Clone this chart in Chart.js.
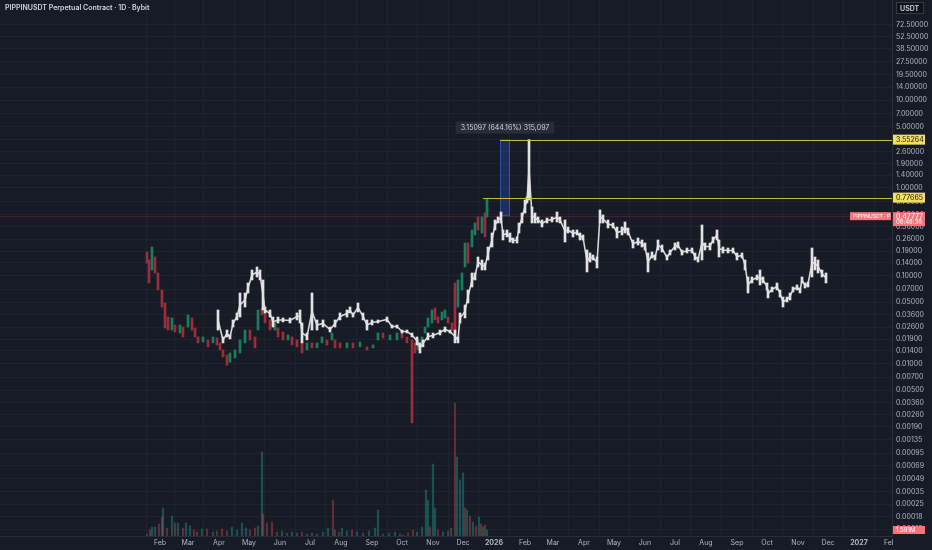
<!DOCTYPE html>
<html>
<head>
<meta charset="utf-8">
<script src="https://cdn.jsdelivr.net/npm/chart.js@4.4.1/dist/chart.umd.min.js"></script>
<style>
  html, body { margin: 0; padding: 0; background: #171b26; }
  #wrap { width: 932px; height: 550px; }
</style>
</head>
<body>
<div id="wrap"><canvas id="chart" width="932" height="550"></canvas></div>
<script>
// days counted from 1 Jan 2025
const monthDays = [31,59,90,120,151,181,212,243,273,304,334,365,396,424,455,485,516,546,577,608,638,669,699,730,761]
const monthLabels = ['Feb','Mar','Apr','May','Jun','Jul','Aug','Sep','Oct','Nov','Dec','2026','Feb','Mar','Apr','May','Jun','Jul','Aug','Sep','Oct','Nov','Dec','2027','Feb']

const priceTicks = [72.5,52.5,38.5,27.5,19.5,14,10,7,5,3.6,2.6,1.9,1.4,1,0.7,0.5,0.36,0.26,0.19,0.14,0.1,0.07,0.05,0.036,0.026,0.019,0.014,0.01,0.007,0.005,0.0036,0.0026,0.0019,0.00135,0.00095,0.00069,0.00049,0.00035,0.00025,0.00018,0.00013]

// PIPPINUSDT daily candles (sampled)
const candleDay = [18,20,23,26,29,33,36,39,43,46, 51,54,59,63,66,69,74,79,84,88, 91,94,98,101,106,111,116,121,126,129,
  133,136,141,146,149,154,159,163,168,173, 178,183,188,193,198,203,206,211,218,224, 231,238,244,249,254,261,268,273,278,283,
  286,289,293,296,299,303,306,309,313,316, 319,323,326,329,333,336,339,343,346,349, 353,356,358]
const candleHigh = [0.1866,0.1513,0.2128,0.1637,0.1076,0.0689,0.0490,0.0339,0.0331,0.0275,
  0.0275,0.0261,0.0358,0.0331,0.0254,0.0201,0.0201,0.0186,0.0201,0.0196,
  0.0172,0.0143,0.0125,0.0132,0.0143,0.0186,0.0241,0.0241,0.0201,0.0408,
  0.0430,0.0377,0.0314,0.0290,0.0254,0.0229,0.0212,0.0201,0.0186,0.0172,
  0.0172,0.0172,0.0172,0.0201,0.0186,0.0223,0.0186,0.0172,0.0172,0.0172,
  0.0176,0.0155,0.0163,0.0223,0.0223,0.0212,0.0223,0.0223,0.0201,0.0186,
  0.0172,0.0186,0.0201,0.0261,0.0331,0.0408,0.0430,0.0339,0.0387,0.0408,
  0.0339,0.0290,0.0828,0.0896,0.1076,0.2363,0.2363,0.3324,0.3994,0.4675,
  0.4675,0.519,0.750]
const candleLow = [0.1398,0.0828,0.1164,0.1076,0.0689,0.0441,0.0254,0.0241,0.0241,0.0229,
  0.0223,0.0201,0.0261,0.0241,0.0201,0.0172,0.0176,0.0155,0.0172,0.0163,
  0.0143,0.0119,0.0096,0.0104,0.0116,0.0132,0.0172,0.0186,0.0151,0.0241,
  0.0358,0.0290,0.0241,0.0241,0.0201,0.0186,0.0186,0.0163,0.0155,0.0132,
  0.0143,0.0151,0.0151,0.0172,0.0163,0.0186,0.0151,0.0151,0.0151,0.0151,
  0.0155,0.0143,0.0151,0.0186,0.0196,0.0186,0.0186,0.0196,0.0172,0.00211,
  0.0132,0.0143,0.0172,0.0223,0.0261,0.0290,0.0314,0.0290,0.0314,0.0331,
  0.0290,0.0241,0.0223,0.0441,0.0689,0.1259,0.1398,0.2128,0.2916,0.3324,
  0.3072,0.2767,0.4675]
const candleUp = [0,0,1,0,0,0,0,0,1,0, 1,0,1,0,0,0,1,0,1,0, 0,0,0,1,1,1,1,0,0,1,
  0,0,0,1,0,0,1,0,0,0, 1,0,1,1,0,1,0,0,1,0, 1,0,1,1,0,1,1,0,0,0,
  0,1,1,1,1,1,0,0,1,1, 0,0,0,1,1,1,0,1,1,0, 1,0,1]

// bars pattern projection (white)
const ghostDay = [89,94,98,101,104,108,111,116,119,123, 128,131,134,136,141,144,149,154,161,168,
  171,173,178,183,188,194,201,206,211,218, 221,224,229,234,238,243,249,258,263,268,
  273,278,283,288,291,294,299,304,311,316, 321,326,329,331,336,339,343,346,349,353,
  356,359,363,366,369,372,374,378,381,384, 388,390,393,396,398,400,403,406,409,413,
  418,423,428,431,436,439,444,448,451,454, 458,461,464,468,471,474,479,484,488,493,
  496,499,504,509,513,516,519,523,526,529, 533,538,541,546,549,553,558,563,566,569,
  573,576,581,584,588,590,594,599,604,608, 613,616,619,623,628,631,634,638,639,643,
  648,651,654,658,661,664,668,671,673,676, 679,683,686,689,693,697]
const ghostHigh = [0.0408,0.0201,0.0241,0.0212,0.0314,0.0377,0.0637,0.0637,0.0828,0.1164,
  0.1259,0.1164,0.0896,0.0441,0.0408,0.0339,0.0339,0.0331,0.0331,0.0377,
  0.0408,0.0290,0.0223,0.0637,0.0314,0.0314,0.0261,0.0314,0.0377,0.0408,
  0.0441,0.0377,0.0490,0.0377,0.0314,0.0314,0.0314,0.0339,0.0275,0.0275,
  0.0241,0.0241,0.0223,0.0201,0.0172,0.0186,0.0223,0.0223,0.0241,0.0261,
  0.0241,0.0241,0.0201,0.0377,0.0465,0.0689,0.1076,0.1076,0.1637,0.1513,
  0.1398,0.2128,0.3072,0.432,0.4675,0.533,0.3324,0.3324,0.3072,0.2695,
  0.2767,0.3994,0.519,0.730,0.790,3.5526,0.608,0.519,0.4675,0.432,
  0.4554,0.4675,0.533,0.4675,0.432,0.3596,0.3324,0.3324,0.3072,0.2916,
  0.1967,0.1818,0.1725,0.1637,0.562,0.493,0.432,0.3994,0.3596,0.3596,
  0.410,0.3503,0.2557,0.2695,0.2557,0.2363,0.1818,0.1866,0.1725,0.2557,
  0.2243,0.1725,0.1967,0.2363,0.2426,0.1967,0.2073,0.2073,0.1818,0.1637,
  0.379,0.2363,0.2363,0.2767,0.3324,0.2557,0.2128,0.2073,0.2073,0.1818,
  0.1818,0.1513,0.0969,0.0969,0.1021,0.1164,0.0969,0.0828,0.0689,0.0745,
  0.0828,0.0689,0.0573,0.0573,0.0637,0.0745,0.0786,0.0726,0.0969,0.0828,
  0.0850,0.2073,0.1637,0.1513,0.1164,0.1076]
const ghostLow = [0.0241,0.0172,0.0201,0.0191,0.0261,0.0314,0.0339,0.0441,0.0637,0.0896,
  0.0969,0.0896,0.0408,0.0377,0.0339,0.0261,0.0290,0.0298,0.0290,0.0314,
  0.0290,0.0172,0.0186,0.0241,0.0241,0.0261,0.0229,0.0261,0.0314,0.0339,
  0.0377,0.0339,0.0387,0.0314,0.0241,0.0275,0.0290,0.0298,0.0254,0.0254,
  0.0223,0.0223,0.0201,0.0163,0.0132,0.0155,0.0186,0.0196,0.0212,0.0229,
  0.0223,0.0172,0.0172,0.0290,0.0331,0.0490,0.0745,0.0896,0.1259,0.1164,
  0.1164,0.1513,0.2128,0.3324,0.3994,0.3994,0.2557,0.2767,0.2426,0.2363,
  0.2363,0.3072,0.3994,0.519,0.675,0.730,0.3994,0.3994,0.3994,0.3596,
  0.3994,0.410,0.410,0.3994,0.2426,0.3072,0.2767,0.2916,0.2557,0.2557,
  0.1105,0.1436,0.1513,0.1227,0.3994,0.3994,0.3503,0.3503,0.2695,0.2916,
  0.3072,0.2916,0.2073,0.2243,0.2128,0.1967,0.1105,0.1594,0.1513,0.1967,
  0.1866,0.1513,0.1725,0.1967,0.2073,0.1725,0.1818,0.1818,0.1513,0.1436,
  0.1513,0.1967,0.1967,0.2363,0.2557,0.1637,0.1818,0.1818,0.1818,0.1513,
  0.1594,0.1164,0.0637,0.0828,0.0896,0.0786,0.0828,0.0689,0.0559,0.0654,
  0.0689,0.0573,0.0441,0.0503,0.0530,0.0654,0.0689,0.0637,0.0828,0.0726,
  0.0745,0.0969,0.1164,0.1076,0.0969,0.0828]

// volume, millions
const volDay = [18,21,23,26,30,33,34,38,43,46,49,54,57,61,65,68,73,78,84,88,93,98,103,108,113,117,121,126,129,133,
  134,138,143,148,153,158,163,168,173,178,183,188,194,199,204,206,210,213,218,223,228,234,240,246,249,254,260,266,271,274,
  279,284,288,293,297,299,301,304,306,309,314,319,322,326,328,331,334,336,338,341,344,347,350,352,354,356,358]
const volValue = [1,3,4.5,4.5,6,9.5,14,4,10,6.5,6.5,4,6.5,5,3,2,3.5,3.5,2,2.5,3.5,2.5,4.5,3,6.5,4,3,4,5,42,
  11,6.5,7,2,2.5,1.5,2,1.5,2,1,1.5,1,2,4,18,3,2,4,2.5,3,2,1.5,2.5,4,13,1,1.5,2,1,0.5,
  1.5,3,2,4.5,23,18,4.5,36,14,3,2,2.5,4,66.5,39.5,28,31.5,14,13,10,7,5,9.5,6,4.5,5.5,3]
const volUp = [0,0,1,1,0,0,1,0,1,0,1,0,1,1,0,0,1,0,1,0,0,0,1,1,1,1,0,0,1,1,
  0,0,0,0,1,0,1,0,0,1,0,1,1,1,0,1,0,1,1,0,1,0,1,1,1,0,1,1,0,1,
  0,0,1,1,1,1,0,1,1,0,1,0,1,0,1,1,1,0,1,0,1,0,1,0,1,0,1]

const lastPrice = 0.47777
const rangeHigh = 3.55264
const levelLow = 0.77665
const rangeStartDay = 371
const rangeEndDay = 381
const levelStartDay = 354

const bg = '#171b26'
const gridColor = '#1f2330'
const textColor = '#b2b5be'

const candleData = candleDay.map((d, i) => ({x: d, y: [candleLow[i], candleHigh[i]]}))
const ghostData = ghostDay.map((d, i) => ({x: d, y: [ghostLow[i], ghostHigh[i]]}))
const ghostMid = ghostDay.map((d, i) => ({x: d, y: Math.sqrt(ghostLow[i] * ghostHigh[i])}))
const volData = volDay.map((d, i) => ({x: d, y: volValue[i]}))

function tag(ctx, x, y, w, h, fill, color, text, font) {
    ctx.fillStyle = fill
    ctx.fillRect(x, y, w, h)
    ctx.fillStyle = color
    ctx.font = font
    ctx.textBaseline = 'middle'
    ctx.textAlign = 'left'
    ctx.fillText(text, x + 3, y + h / 2 + 0.5)
}

const overlay = {
    id: 'overlay',
    beforeDraw(chart) {
        const ctx = chart.ctx
        ctx.save()
        ctx.fillStyle = bg
        ctx.fillRect(0, 0, chart.width, chart.height)
        ctx.restore()
    },
    beforeDatasetsDraw(chart) {
        const ctx = chart.ctx, xs = chart.scales.x, ys = chart.scales.y
        const area = chart.chartArea
        ctx.save()
        // current price line
        ctx.strokeStyle = 'rgba(242,54,69,0.22)'
        ctx.lineWidth = 1
        const yp = Math.round(ys.getPixelForValue(lastPrice)) + 0.5
        ctx.beginPath(); ctx.moveTo(area.left, yp); ctx.lineTo(area.right, yp); ctx.stroke()
        // measured range box
        const x1 = xs.getPixelForValue(rangeStartDay), x2 = xs.getPixelForValue(rangeEndDay)
        const yt = ys.getPixelForValue(rangeHigh), yb = ys.getPixelForValue(lastPrice)
        ctx.fillStyle = 'rgba(41,98,255,0.26)'
        ctx.fillRect(x1, yt, x2 - x1, yb - yt)
        ctx.strokeStyle = 'rgba(90,130,255,0.4)'
        ctx.strokeRect(x1 + 0.5, yt + 0.5, x2 - x1 - 1, yb - yt - 1)
        ctx.restore()
    },
    afterDatasetsDraw(chart) {
        const ctx = chart.ctx, xs = chart.scales.x, ys = chart.scales.y
        const area = chart.chartArea
        ctx.save()
        ctx.strokeStyle = '#cdb936'
        ctx.lineWidth = 1
        let y = Math.round(ys.getPixelForValue(rangeHigh)) + 0.5
        ctx.beginPath(); ctx.moveTo(xs.getPixelForValue(rangeStartDay), y); ctx.lineTo(area.right, y); ctx.stroke()
        y = Math.round(ys.getPixelForValue(levelLow)) + 0.5
        ctx.beginPath(); ctx.moveTo(xs.getPixelForValue(levelStartDay), y); ctx.lineTo(area.right, y); ctx.stroke()

        // range label
        const txt = '3.15097 (644.16%) 315,097'
        ctx.font = '7px Inter'
        const w = ctx.measureText(txt).width + 10
        const cx = (xs.getPixelForValue(rangeStartDay) + xs.getPixelForValue(rangeEndDay)) / 2
        const ty = ys.getPixelForValue(rangeHigh) - 18
        ctx.fillStyle = 'rgba(42,46,57,0.92)'
        ctx.fillRect(cx - w / 2, ty, w, 12)
        ctx.fillStyle = '#d1d4dc'
        ctx.textAlign = 'center'
        ctx.textBaseline = 'middle'
        ctx.fillText(txt, cx, ty + 6.5)
        ctx.restore()
    },
    afterDraw(chart) {
        const ctx = chart.ctx, ys = chart.scales.y, yv = chart.scales.yv
        const area = chart.chartArea
        ctx.save()
        // corner below price axis
        ctx.fillStyle = bg
        ctx.fillRect(area.right + 1, area.bottom + 1, chart.width - area.right, chart.height - area.bottom)

        const ax = area.right + 1
        let y = ys.getPixelForValue(rangeHigh)
        tag(ctx, ax, y - 5, 32, 10, '#f2df5e', '#131722', '3.55264', '7px Inter')
        y = ys.getPixelForValue(levelLow)
        tag(ctx, ax, y - 5, 32, 10, '#f2df5e', '#131722', '0.77665', '7px Inter')
        y = ys.getPixelForValue(lastPrice)
        ctx.fillStyle = '#f7727a'
        ctx.fillRect(ax, y - 4, 32, 14)
        ctx.fillStyle = '#ffffff'
        ctx.font = '7px Inter'
        ctx.textAlign = 'left'
        ctx.textBaseline = 'middle'
        ctx.fillText('0.47777', ax + 3, y + 0.5)
        ctx.font = '6px Inter'
        ctx.fillText('08:48:38', ax + 3, y + 6.5)
        tag(ctx, area.right - 42, y - 4, 41, 8, '#f7727a', '#ffffff', 'PIPPINUSDT · P', '5px Inter')

        // volume tag
        const vy = Math.min(yv.getPixelForValue(volValue[volValue.length - 1]), area.bottom - 5)
        tag(ctx, ax, vy - 4, 32, 8, '#f7727a', '#ffffff', '1.591M', '6px Inter')

        // currency box
        ctx.fillStyle = '#0f121a'
        ctx.fillRect(ax + 3, 2, 28, 12)
        ctx.strokeStyle = '#363a45'
        ctx.strokeRect(ax + 3.5, 2.5, 27, 11)
        ctx.fillStyle = '#d1d4dc'
        ctx.font = '600 7px Inter'
        ctx.fillText('USDT', ax + 7, 8.5)

        // title
        ctx.font = '600 7px Inter'
        ctx.fillStyle = '#d1d4dc'
        ctx.fillText('PIPPINUSDT Perpetual Contract · 1D · Bybit', 5, 8)
        ctx.restore()
    }
}

const ctx = document.getElementById('chart')
new Chart(ctx, {
    data: {
        datasets: [
            {
                type: 'bar', data: volData, yAxisID: 'yv', grouped: false, barThickness: 1.5, order: 4,
                backgroundColor: volUp.map(u => u ? 'rgba(38,166,154,0.38)' : 'rgba(239,83,80,0.35)')
            },
            {
                type: 'bar', data: candleData, yAxisID: 'y', grouped: false, barThickness: 2, order: 3,
                backgroundColor: candleUp.map(u => u ? '#1a7d5e' : '#9a2f3a')
            },
            {
                type: 'line', data: ghostMid, yAxisID: 'y', order: 2,
                borderColor: '#d6d6d6', borderWidth: 1.6, pointRadius: 0, tension: 0
            },
            {
                type: 'bar', data: ghostData, yAxisID: 'y', grouped: false, barThickness: 2, order: 1,
                backgroundColor: '#e2e2e2'
            }
        ]
    },
    options: {
        responsive: false,
        animation: false,
        layout: { padding: 0 },
        plugins: { legend: { display: false }, tooltip: { enabled: false } },
        scales: {
            x: {
                type: 'linear', min: -129, max: 763, offset: false,
                grid: { color: gridColor, drawTicks: false },
                border: { color: '#2a2e39' },
                afterBuildTicks(s) { s.ticks = monthDays.map(v => ({value: v})) },
                afterFit(s) { s.height = 14; s.paddingLeft = 0; s.paddingRight = 0 },
                ticks: {
                    autoSkip: false, maxRotation: 0, padding: 3, color: textColor,
                    font: (c) => ({ family: 'Inter', size: 7, weight: (monthLabels[c.index] || '').length === 4 ? '700' : '400' }),
                    callback: (v, i) => monthLabels[i]
                }
            },
            y: {
                type: 'logarithmic', position: 'right', min: 0.0001087, max: 138.4,
                grid: { color: gridColor, drawTicks: false },
                border: { color: '#2a2e39' },
                afterBuildTicks(s) { s.ticks = priceTicks.map(v => ({value: v})) },
                afterFit(s) { s.width = 40; s.paddingTop = 0; s.paddingBottom = 0 },
                ticks: {
                    autoSkip: false, padding: 4, color: textColor,
                    font: { family: 'Inter', size: 7 },
                    callback: (v) => Number(v).toFixed(5)
                }
            },
            yv: { type: 'linear', display: false, min: 0, max: 268 }
        }
    },
    plugins: [overlay]
})
</script>
</body>
</html>
